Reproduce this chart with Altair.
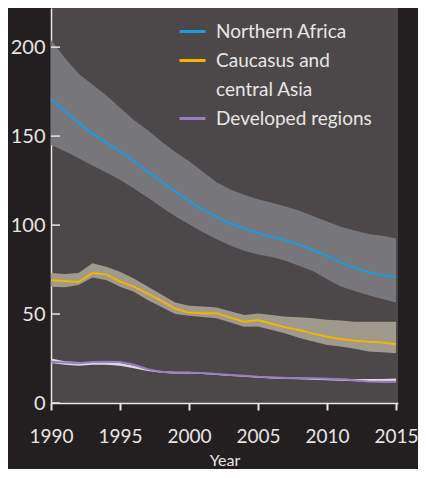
import altair as alt
import pandas as pd

years = list(range(1990, 2016))
series_names = ["Northern Africa", "Caucasus and central Asia", "Developed regions"]

na_mid = [171, 164, 157.5, 151.5, 146.5, 141.5, 136, 130, 124.5, 119, 113.5, 108.5, 104.5,
          101, 98, 95.5, 93.5, 91.5, 89, 86, 82.5, 79, 76, 73.5, 72, 70.5]
na_hi = [204, 194, 185, 179, 173, 166, 159, 153.5, 147, 141, 136, 130, 124, 120, 117,
         114.5, 112.5, 110.5, 108, 105, 102, 99, 97, 95, 94, 92.5]
na_lo = [145, 141.5, 137.5, 133.5, 129.5, 125.5, 120.5, 115.5, 110, 105, 100.5, 96, 92,
         88.5, 85.5, 83.5, 82, 80, 77, 74, 69.5, 65.5, 63, 60.5, 58.5, 56.5]

ca_mid = [69, 68.5, 68, 73, 72.3, 68.3, 65.4, 61.5, 57.5, 53, 50.8, 50.5, 50.5, 48, 45.7,
          46.6, 44.5, 42.5, 41, 39, 37.2, 36, 35, 34.4, 34, 33]
ca_hi = [73, 72.5, 73, 78.5, 76.6, 73.8, 70, 65.5, 61, 56.5, 54.7, 54.2, 53.7, 51.5, 49.4,
         50.3, 49.4, 48.5, 48.2, 47.6, 46.8, 46.4, 45.7, 45.7, 45.7, 45.7]
ca_lo = [65.4, 65, 66.3, 70.6, 69.1, 65.4, 62.5, 57.9, 54, 50, 49, 48.3, 47.6, 45.2, 42.9,
         43, 41, 39.1, 36.5, 34.5, 32.6, 31.7, 30.5, 29, 28.5, 27.9]

dr_mid = [23.2, 22.7, 22.3, 23, 23.2, 23, 21.5, 19, 17.5, 17, 17, 16.8, 16.3, 15.8, 15.3,
          14.8, 14.5, 14, 14, 13.9, 13.6, 13.3, 12.8, 12.1, 12, 12]
dr_hi = [25, 23.5, 23, 23, 23, 22.5, 21, 19, 18, 17.5, 17.5, 17, 16.5, 16, 15.5, 15, 14.5,
         14.2, 14, 14, 13.8, 13.6, 13.5, 13.5, 13.5, 13.8]
dr_lo = [22.5, 21.5, 21, 21.5, 21.5, 21, 19.5, 18, 17, 16.5, 16.5, 16.3, 15.8, 15.2, 14.7,
         14.2, 13.8, 13.5, 13.3, 13.1, 12.8, 12.5, 12.2, 11.9, 11.7, 11.6]

y_ticks = [0, 50, 100, 150, 200]
x_ticks = [1990, 1995, 2000, 2005, 2010, 2015]

line_colors = ["#1a9ddf", "#f3b500", "#9b7cc0"]
band_colors = ["#76767b", "#a0998e", "#dcd8e0"]

rows = []
for name, mid, lo, hi in zip(series_names, [na_mid, ca_mid, dr_mid],
                             [na_lo, ca_lo, dr_lo], [na_hi, ca_hi, dr_hi]):
    for yr, m, l, h in zip(years, mid, lo, hi):
        rows.append({"year": yr, "series": name, "value": m, "lo": l, "hi": h})
df = pd.DataFrame(rows)
ticks_df = pd.DataFrame({"tick": y_ticks})

TXT = "#e8e5e5"
FONT = "Lato"

# legend: the second series label is split over two rows
legend_domain = [series_names[0], series_names[1], "central Asia", series_names[2]]
legend_range = [line_colors[0], line_colors[1], "transparent", line_colors[2]]

x_scale = alt.Scale(domain=[1990, 2015.14], nice=False, zero=False)
y_scale = alt.Scale(domain=[0, 222], nice=False, zero=True)

x_axis = alt.Axis(values=x_ticks, format="d", title="Year", tickSize=7, tickWidth=2,
                  tickColor=TXT, labelPadding=17, labelFontSize=19, titleFontSize=16,
                  titlePadding=6, labelBound=False, labelFlush=False, labelOverlap=False)
y_axis = alt.Axis(values=y_ticks, title=None, ticks=False, tickSize=0, labelPadding=6,
                  labelFontSize=20)

bands = alt.Chart(df).mark_area(opacity=1).encode(
    x=alt.X("year:Q", scale=x_scale, axis=x_axis),
    y=alt.Y("lo:Q", scale=y_scale, axis=y_axis),
    y2="hi:Q",
    fill=alt.Fill("series:N", scale=alt.Scale(domain=series_names, range=band_colors),
                  legend=None),
    detail="series:N",
)

lines = alt.Chart(df).mark_line(strokeWidth=2).encode(
    x=alt.X("year:Q", scale=x_scale, axis=x_axis),
    y=alt.Y("value:Q", scale=y_scale, axis=y_axis),
    color=alt.Color(
        "series:N",
        scale=alt.Scale(domain=legend_domain, range=legend_range),
        legend=alt.Legend(
            orient="none", legendX=127, legendY=9, title=None,
            labelExpr="datum.label == 'Caucasus and central Asia' ? 'Caucasus and' : datum.label",
            labelFontSize=19, labelColor=TXT, labelFont=FONT, labelLimit=400,
            symbolType="stroke", symbolSize=676, symbolStrokeWidth=3,
            labelOffset=9, rowPadding=4,
        ),
    ),
)

inner_ticks = alt.Chart(ticks_df).mark_rule(color=TXT, strokeWidth=1.5).encode(
    y=alt.Y("tick:Q", scale=y_scale, axis=y_axis),
    x=alt.datum(1990),
    x2=alt.datum(1990.65),
)

chart = alt.layer(bands, lines, inner_ticks).properties(
    width=347,
    height=395,
    autosize=alt.AutoSizeParams(type="none"),
    padding={"left": 43, "top": 0, "right": 20, "bottom": 66},
    background="#231f20",
).configure_view(
    fill="#4c4849", stroke=None
).configure_axis(
    grid=False, domainColor=TXT, domainWidth=1.5, labelColor=TXT, titleColor=TXT,
    labelFont=FONT, titleFont=FONT, titleFontWeight="normal",
).configure_legend(
    labelFont=FONT
)

chart.save("out.html", embed_options={"renderer": "svg", "actions": False})
